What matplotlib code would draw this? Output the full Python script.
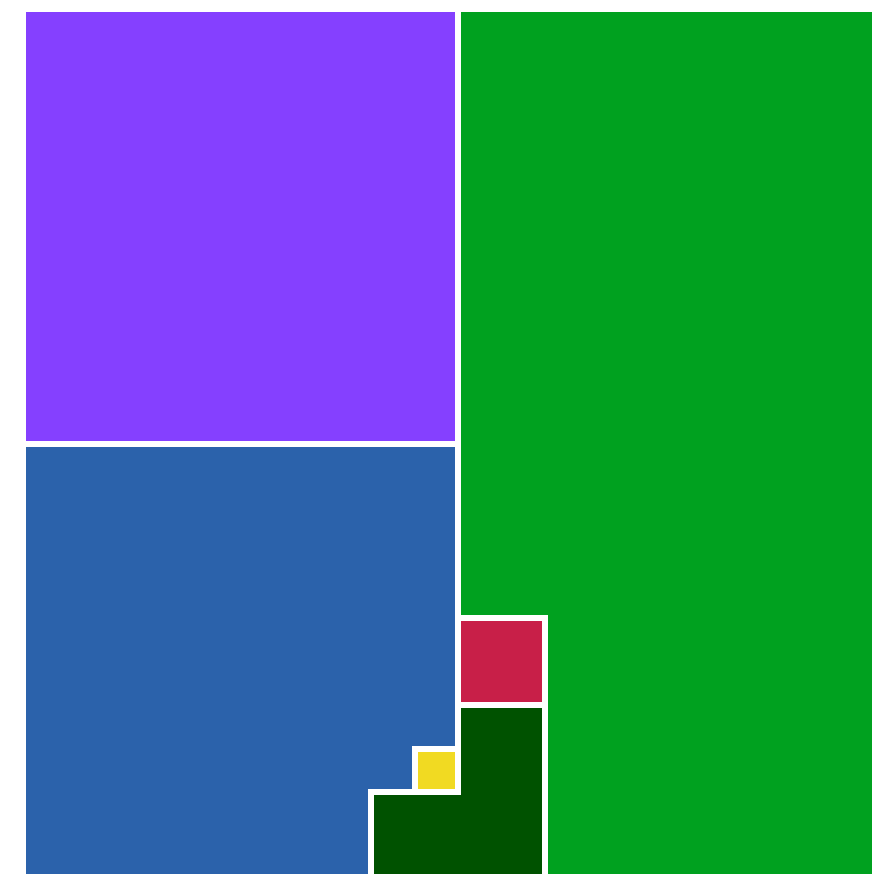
import numpy as np
import matplotlib
matplotlib.use('Agg')
import matplotlib.pyplot as plt
from matplotlib.patches import Rectangle

# waffle chart, 20 x 20 = 400 cells
categories = ['purple', 'blue', 'yellow', 'dark green', 'red', 'green']
counts = [100, 95, 1, 12, 4, 188]
colors = ['#8540ff', '#2b62ab', '#f1da22', '#005200', '#c81f48', '#00a11f']

n = 20
half = n // 2
gap = 0.13

# fill order: top-left quadrant, then bottom half snaking in column pairs,
# then top-right quadrant
order = [(r, c) for r in range(half) for c in range(half)]
for p in range(n // 2):
    rows = range(half, n) if p % 2 == 0 else range(n - 1, half - 1, -1)
    for r in rows:
        order += [(r, 2 * p), (r, 2 * p + 1)]
order += [(r, c) for r in range(half) for c in range(half, n)]

grid = np.zeros((n, n), dtype=int)
k = 0
for i, cnt in enumerate(counts):
    for j in range(cnt):
        r, c = order[k]
        grid[r, c] = i
        k += 1

fig = plt.figure(figsize=(8.72, 8.74), dpi=100)
ax = fig.add_axes([0, 0, 1, 1])
s = 1 - gap
for r in range(n):
    for c in range(n):
        cat = grid[r, c]
        col = colors[cat]
        rects = [(c, r, s, s)]
        right = c + 1 < n and grid[r, c + 1] == cat
        down = r + 1 < n and grid[r + 1, c] == cat
        if right:
            rects.append((c + s - 0.01, r, gap + 0.02, s))
        if down:
            rects.append((c, r + s - 0.01, s, gap + 0.02))
        if right and down and grid[r + 1, c + 1] == cat:
            rects.append((c + s - 0.01, r + s - 0.01, gap + 0.02, gap + 0.02))
        for (x, y, w, h) in rects:
            ax.add_patch(Rectangle((x, y), w, h, facecolor=col, linewidth=0,
                                   antialiased=False))

ax.set_xlim(-26 / 43.5, 846 / 43.5)
ax.set_ylim(862 / 43.5, -12 / 43.5)
ax.axis('off')

fig.savefig('out.png', dpi=100)
